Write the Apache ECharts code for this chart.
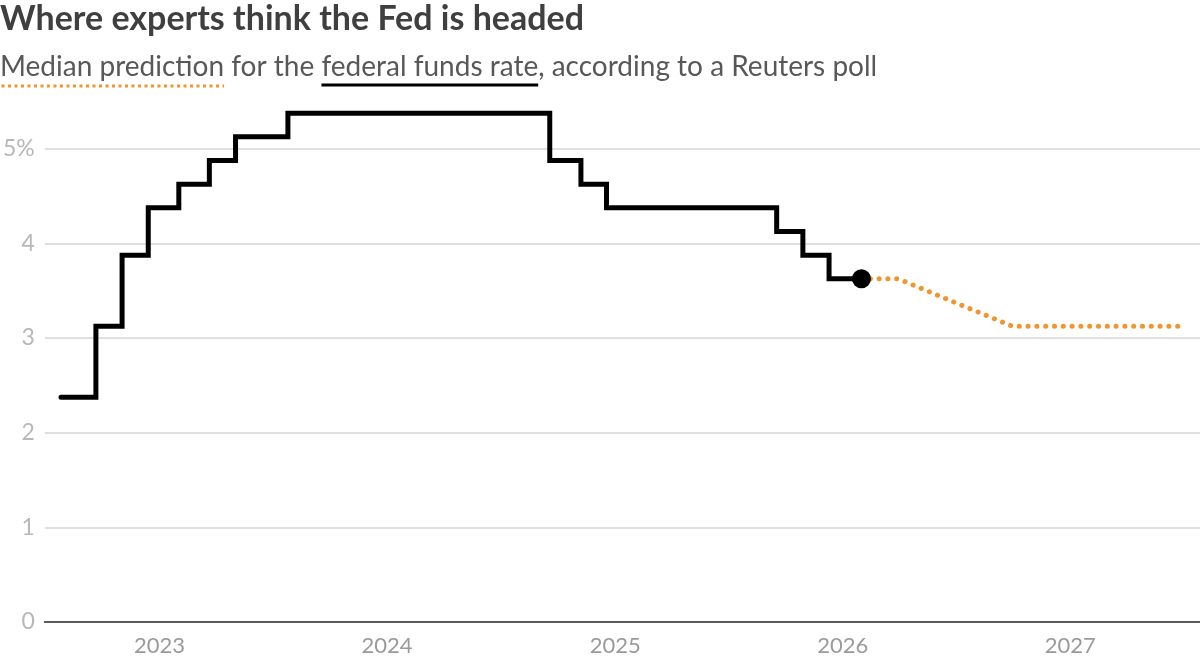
<!DOCTYPE html>
<html>
<head>
<meta charset="utf-8">
<title>Where experts think the Fed is headed</title>
<script src="https://cdn.jsdelivr.net/npm/echarts@6/dist/echarts.min.js"></script>
<style>
  html, body { margin: 0; padding: 0; background: #fff; }
  #chart { width: 1200px; height: 658px; }
</style>
</head>
<body>
<div id="chart"></div>
<script>
// fed funds rate, midpoint of target range, by decision date
const actualDates = ['2022-07-27', '2022-09-21', '2022-11-02', '2022-12-14', '2023-02-01', '2023-03-22',
  '2023-05-03', '2023-07-26', '2024-09-18', '2024-11-07', '2024-12-18', '2025-09-17', '2025-10-29',
  '2025-12-10', '2026-01-31']
const actualRates = [2.375, 3.125, 3.875, 4.375, 4.625, 4.875, 5.125, 5.375, 4.875, 4.625, 4.375, 4.125,
  3.875, 3.625, 3.625]

// median poll prediction (quarter ends)
const forecastDates = ['2026-01-31', '2026-03-31', '2026-06-30', '2026-09-30', '2026-12-31', '2027-03-31', '2027-06-30']
const forecastRates = [3.625, 3.625, 3.375, 3.125, 3.125, 3.125, 3.125]

const yTicks = [0, 1, 2, 3, 4, 5]

const titleText = 'Where experts think the Fed is headed'
const subA = 'Median prediction'
const subB = ' for the '
const subC = 'federal funds rate'
const subD = ', according to a Reuters poll'

const FONT = 'Lato'
const subFont = '28px ' + FONT

// measure subtitle pieces so the underlines sit under the right words
const ctx = document.createElement('canvas').getContext('2d')
ctx.font = subFont
const wA = ctx.measureText(subA).width
const wAB = ctx.measureText(subA + subB).width
const wABC = ctx.measureText(subA + subB + subC).width

const chart = echarts.init(document.getElementById('chart'))

chart.setOption({
  animation: false,
  grid: {
    left: 42,
    right: 0,
    top: 54,
    bottom: 36
  },
  graphic: [
    {
      type: 'text',
      x: 0,
      y: 19,
      style: { text: titleText, font: 'bold 34px ' + FONT, fill: '#3f3f3f', verticalAlign: 'middle' }
    },
    {
      type: 'text',
      x: 0,
      y: 67,
      style: { text: subA + subB + subC + subD, font: subFont, fill: '#585858', verticalAlign: 'middle' }
    },
    {
      type: 'line',
      shape: { x1: 1.5, y1: 86, x2: wA, y2: 86 },
      style: { stroke: '#f0962e', lineWidth: 3, lineDash: [3, 3.5] }
    },
    {
      type: 'line',
      shape: { x1: wAB, y1: 85, x2: wABC, y2: 85 },
      style: { stroke: '#000', lineWidth: 3 }
    }
  ],
  xAxis: {
    type: 'time',
    min: '2022-07-01',
    max: '2027-07-28',
    splitNumber: 5,
    axisLine: { lineStyle: { color: '#5a5a5a', width: 2 } },
    axisTick: { show: false },
    splitLine: { show: false },
    axisLabel: {
      color: '#9a9a9a',
      fontFamily: FONT,
      fontSize: 22,
      margin: 13,
      formatter: (val) => {
        const d = new Date(val)
        return (d.getMonth() === 0 && d.getDate() === 1) ? String(d.getFullYear()) : ''
      }
    }
  },
  yAxis: {
    type: 'value',
    min: 0,
    max: 6,
    interval: 1,
    axisLine: { show: false },
    axisTick: { show: false },
    splitLine: { showMaxLine: false, lineStyle: { color: '#d6d6d6', width: 1.5 } },
    axisLabel: {
      showMaxLabel: false,
      color: '#b8b8b8',
      fontFamily: FONT,
      fontSize: 23,
      margin: 10,
      formatter: (v) => (v === yTicks[yTicks.length - 1] ? v + '%' : String(v))
    }
  },
  series: [
    {
      name: 'Federal funds rate',
      type: 'line',
      step: 'end',
      symbol: 'none',
      z: 3,
      data: actualDates.map((d, i) => [d, actualRates[i]]),
      lineStyle: { color: '#000', width: 5, cap: 'round', join: 'miter' }
    },
    {
      name: 'Median prediction',
      type: 'line',
      symbol: 'none',
      z: 2,
      data: forecastDates.map((d, i) => [d, forecastRates[i]]),
      lineStyle: { color: '#f0962e', width: 5, type: [0.1, 8.7], cap: 'round', join: 'round' }
    },
    {
      name: 'Latest',
      type: 'scatter',
      symbol: 'circle',
      symbolSize: 19,
      z: 4,
      itemStyle: { color: '#000', opacity: 1 },
      data: [[actualDates[actualDates.length - 1], actualRates[actualRates.length - 1]]]
    }
  ]
})
</script>
</body>
</html>
